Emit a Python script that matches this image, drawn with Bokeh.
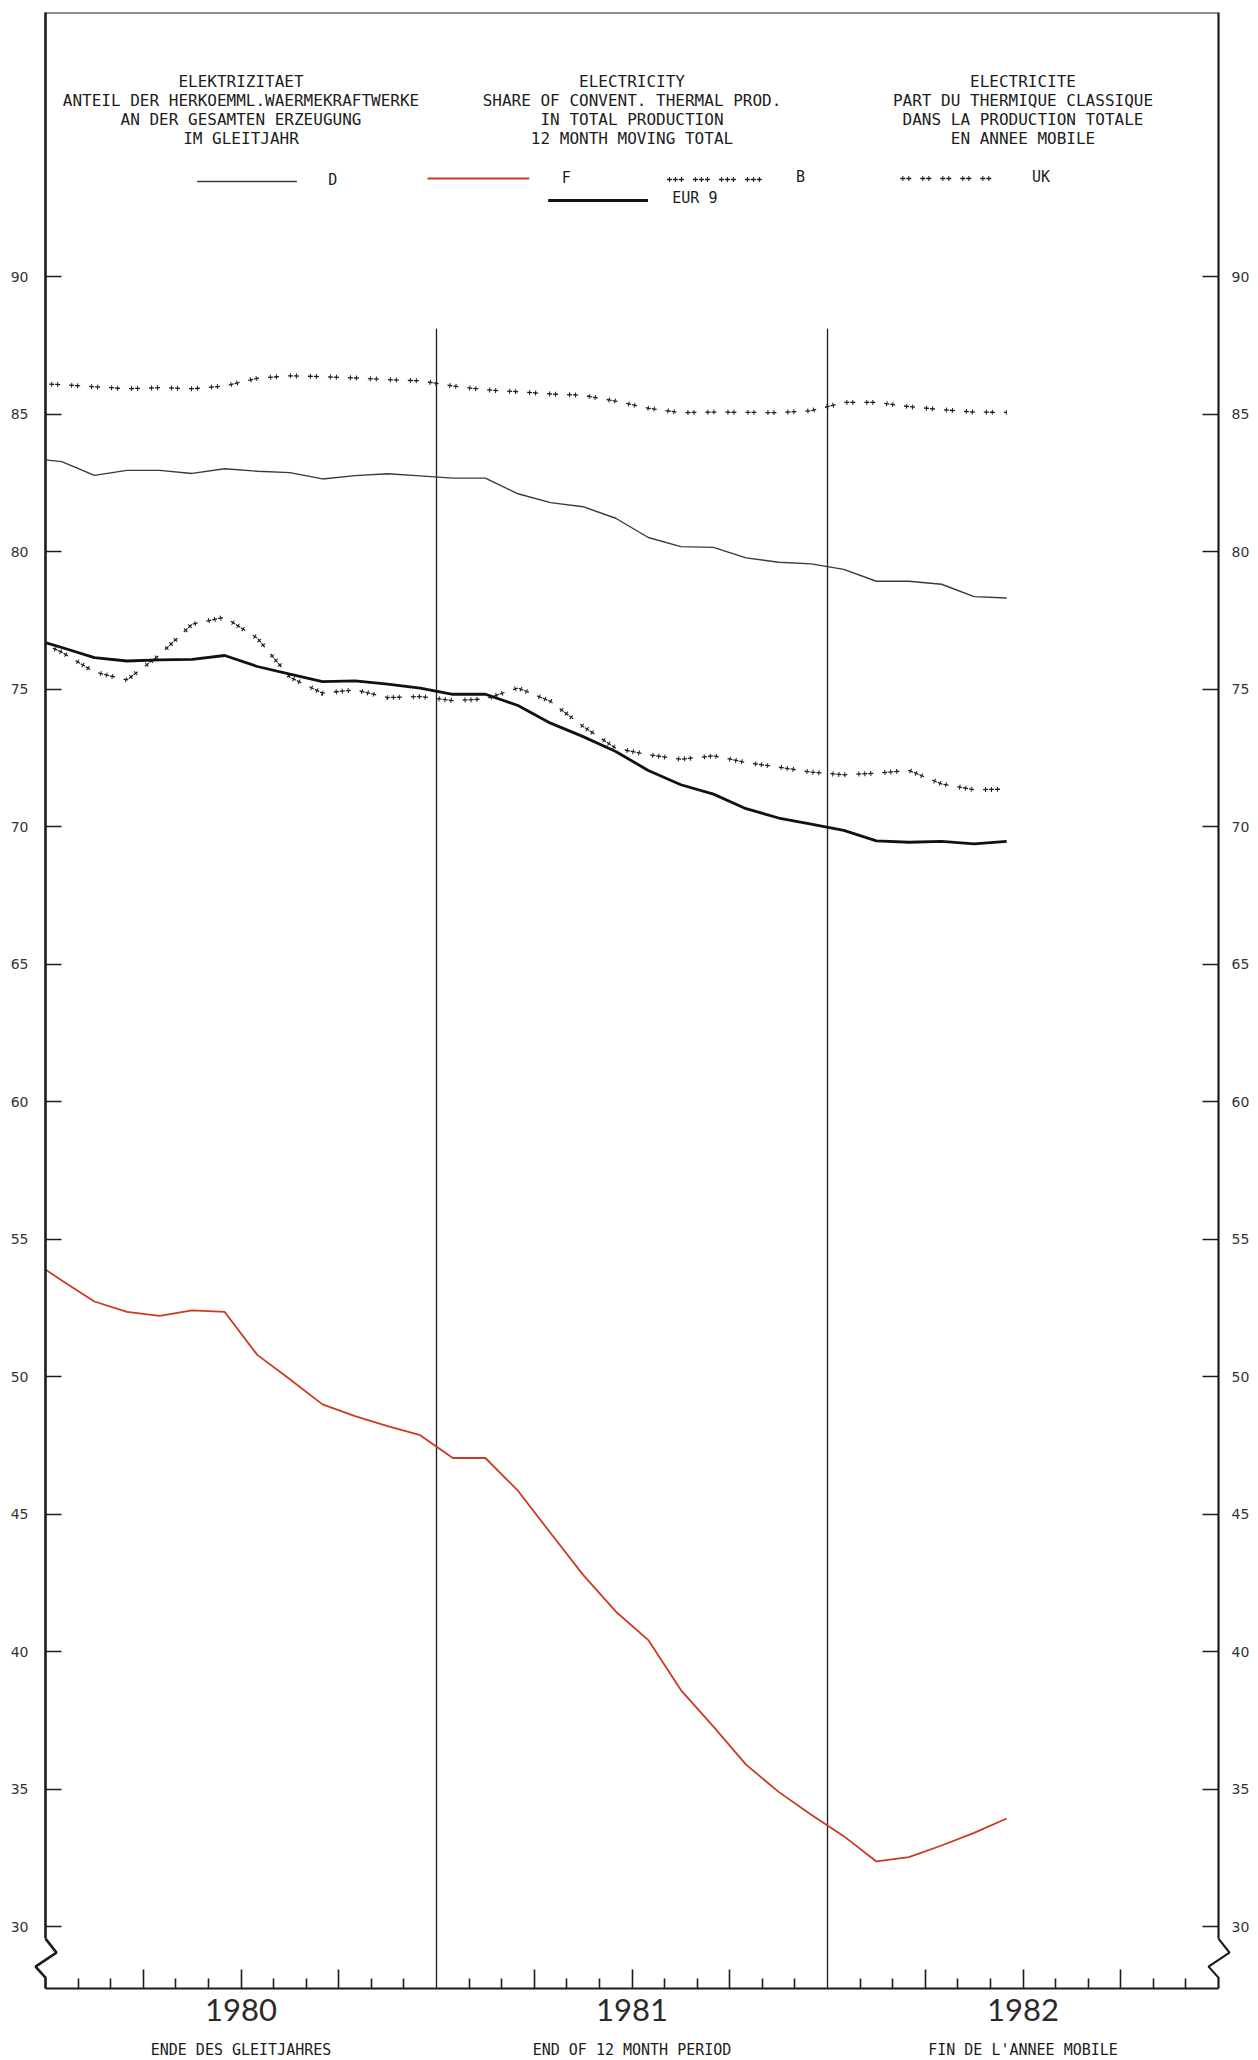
from bokeh.plotting import figure
from bokeh.models import Range1d, LinearAxis, FixedTicker, Label, Span
from bokeh.core.properties import value
from bokeh.embed import file_html
from bokeh.resources import INLINE

# ---------------- data (monthly, 12-month moving total, % share) ----------------
# index 0 = Dec 1979 (clipped at the axis), then Jan 1980 ... Jun 1982
periods = ["1979-12"] + ["%d-%02d" % (y, m) for y in (1980, 1981, 1982) for m in range(1, 13)][:30]

D = [83.39, 83.27, 82.77, 82.95, 82.95, 82.84, 83.01, 82.92, 82.87, 82.64, 82.76,
     82.83, 82.75, 82.67, 82.67, 82.10, 81.78, 81.63, 81.21, 80.51, 80.18, 80.15,
     79.77, 79.61, 79.55, 79.35, 78.92, 78.92, 78.81, 78.36, 78.31]
F = [54.29, 53.49, 52.73, 52.35, 52.21, 52.41, 52.35, 50.79, 49.90, 48.99, 48.56,
     48.20, 47.87, 47.04, 47.04, 45.85, 44.31, 42.79, 41.46, 40.42, 38.60, 37.27,
     35.89, 34.90, 34.07, 33.29, 32.37, 32.53, 32.95, 33.41, 33.93]
B = [76.88, 76.34, 75.62, 75.33, 76.24, 77.36, 77.61, 76.85, 75.43, 74.85, 74.97,
     74.69, 74.73, 74.58, 74.64, 75.04, 74.55, 73.64, 72.85, 72.61, 72.45, 72.57,
     72.33, 72.16, 71.98, 71.88, 71.94, 72.04, 71.55, 71.34, 71.36]
UK = [86.11, 86.07, 85.99, 85.92, 85.96, 85.92, 86.02, 86.30, 86.39, 86.36, 86.31,
      86.25, 86.21, 86.02, 85.88, 85.81, 85.73, 85.68, 85.47, 85.21, 85.05, 85.07,
      85.06, 85.05, 85.12, 85.42, 85.42, 85.27, 85.16, 85.07, 85.06]
EUR9 = [76.87, 76.51, 76.14, 76.02, 76.06, 76.08, 76.22, 75.82, 75.54, 75.27, 75.30,
        75.18, 75.03, 74.81, 74.81, 74.40, 73.76, 73.27, 72.73, 72.04, 71.52, 71.18,
        70.65, 70.31, 70.09, 69.86, 69.48, 69.43, 69.46, 69.37, 69.46]

years = ["1980", "1981", "1982"]
y_ticks = [30, 35, 40, 45, 50, 55, 60, 65, 70, 75, 80, 85, 90]

header_de = ["ELEKTRIZITAET", "ANTEIL DER HERKOEMML.WAERMEKRAFTWERKE",
             "AN DER GESAMTEN ERZEUGUNG", "IM GLEITJAHR"]
header_en = ["ELECTRICITY", "SHARE OF CONVENT. THERMAL PROD.",
             "IN TOTAL PRODUCTION", "12 MONTH MOVING TOTAL"]
header_fr = ["ELECTRICITE", "PART DU THERMIQUE CLASSIQUE",
             "DANS LA PRODUCTION TOTALE", "EN ANNEE MOBILE"]
footer = ["ENDE DES GLEITJAHRES", "END OF 12 MONTH PERIOD", "FIN DE L'ANNEE MOBILE"]

# ---------------- figure ----------------
W, H = 1252, 2058
YMIN, YMAX = 27.75, 99.6
XMIN, XMAX = 0, 36

x = [i - 0.5 for i in range(len(periods))]

p = figure(width=W, height=H, x_range=Range1d(XMIN, XMAX), y_range=Range1d(YMIN, YMAX),
           output_backend="svg", toolbar_location=None,
           x_axis_type=None, y_axis_type=None,
           min_border_left=45, min_border_right=31, min_border_top=12, min_border_bottom=70)
p.outline_line_color = None
p.background_fill_color = "white"
p.border_fill_color = "white"

INK = "#1c1c1c"
MONO = "DejaVu Sans Mono"

# helpers converting page-pixel positions (decoration only) to plot units
def mx(px):
    return (px - 45) / 32.667

def vy(py):
    return 90 - (py - 276) / 27.5

# ---------------- axes ----------------
ZZ_TOP = vy(1938)
common_y = dict(ticker=FixedTicker(ticks=y_ticks, minor_ticks=[]),
                bounds=(ZZ_TOP, YMAX), major_tick_in=16, major_tick_out=0,
                minor_tick_in=0, minor_tick_out=0, major_tick_line_width=1.6,
                major_tick_line_color=INK, axis_line_color=INK,
                major_label_text_font="DejaVu Sans", major_label_text_font_size="14px",
                major_label_text_color="#333333")
yl = LinearAxis(axis_line_width=2.6, major_label_standoff=17, **common_y)
yr = LinearAxis(axis_line_width=2.2, major_label_standoff=13, **common_y)
p.add_layout(yl, "left")
p.add_layout(yr, "right")

major_x = [m for m in range(3, 36, 3) if m % 12 != 0]
minor_x = [m for m in range(1, 36) if m % 3 != 0]
overrides = {m: "" for m in major_x}
for i, yr_lbl in enumerate(years):
    overrides[6 + 12 * i] = yr_lbl
xa = LinearAxis(ticker=FixedTicker(ticks=major_x, minor_ticks=minor_x),
                major_label_overrides=overrides, bounds=(XMIN, XMAX),
                major_tick_in=19, major_tick_out=0, minor_tick_in=10, minor_tick_out=0,
                major_tick_line_width=1.6, minor_tick_line_width=1.6,
                major_tick_line_color=INK, minor_tick_line_color=INK,
                axis_line_width=2.2, axis_line_color=INK,
                major_label_standoff=10, major_label_text_font="Lato",
                major_label_text_font_size="31px", major_label_text_color="#2a2a2a")
p.add_layout(xa, "below")

p.add_layout(Span(location=YMAX, dimension="width", line_color=INK, line_width=2))

# axis breaks (zig-zag) at the bottom of both vertical axes
zz_y = [ZZ_TOP, vy(1952), vy(1966), vy(1977), YMIN]
for x0, w in ((XMIN, 2.6), (XMAX, 2.2)):
    zz_x = [x0, x0 + 11 / 32.667, x0 - 10 / 32.667, x0, x0]
    p.line(zz_x, zz_y, line_color=INK, line_width=w, level="overlay")

# year boundaries
p.segment(x0=[12, 24], y0=[YMIN, YMIN], x1=[12, 24], y1=[88.1, 88.1],
          line_color=INK, line_width=1.3)

# ---------------- series ----------------
DASH_B = ("5 1 5 1 5 9", "0 2 1 5 1 5 1 11")
DASH_UK = ("5 1 5 9", "0 2 1 5 1 11")


def plus_line(xs, ys, dashes):
    p.line(xs, ys, line_color=INK, line_width=1.3, line_dash=dashes[0])
    p.line(xs, ys, line_color=INK, line_width=5, line_dash=dashes[1])


D_COLOR, F_COLOR = "#3a3a34", "#cc3a1f"
p.line(x, D, line_color=D_COLOR, line_width=1.4)
p.line(x, F, line_color=F_COLOR, line_width=1.8)
plus_line(x, UK, DASH_UK)
plus_line(x, B, DASH_B)
p.line(x, EUR9, line_color="#111111", line_width=2.8)

# ---------------- header ----------------
for block, xc in ((header_de, 6), (header_en, 18), (header_fr, 30)):
    for k, line in enumerate(block):
        p.add_layout(Label(x=xc, y=vy(81 + 19 * k), text=line,
                           text_align="center", text_baseline="middle",
                           text_font=MONO, text_font_size="16px", text_color=INK))

# legend
p.line([mx(197), mx(297)], [vy(181)] * 2, line_color=D_COLOR, line_width=1.6)
p.line([mx(428), mx(530)], [vy(178)] * 2, line_color=F_COLOR, line_width=1.8)
p.line([mx(549), mx(649)], [vy(200)] * 2, line_color="#111111", line_width=2.8)
plus_line([mx(668), mx(766)], [vy(179)] * 2, DASH_B)
plus_line([mx(902), mx(994)], [vy(178)] * 2, DASH_UK)
for txt, px, py in (("D", 333, 179), ("F", 567, 177), ("B", 802, 176),
                    ("UK", 1043, 176), ("EUR 9", 696, 197)):
    p.add_layout(Label(x=mx(px), y=vy(py), text=txt,
                       text_align="center", text_baseline="middle",
                       text_font=MONO, text_font_size="15px", text_color=INK))

# footer below the year labels (overlay level so it is drawn outside the frame)
p.text(x=[6 + 12 * i for i in range(3)], y=[vy(2049)] * 3, text=footer,
       text_align="center", text_baseline="middle", text_font=value(MONO),
       text_font_size="15px", text_color=INK, level="overlay")

open("out.html", "w").write(file_html(p, INLINE))
